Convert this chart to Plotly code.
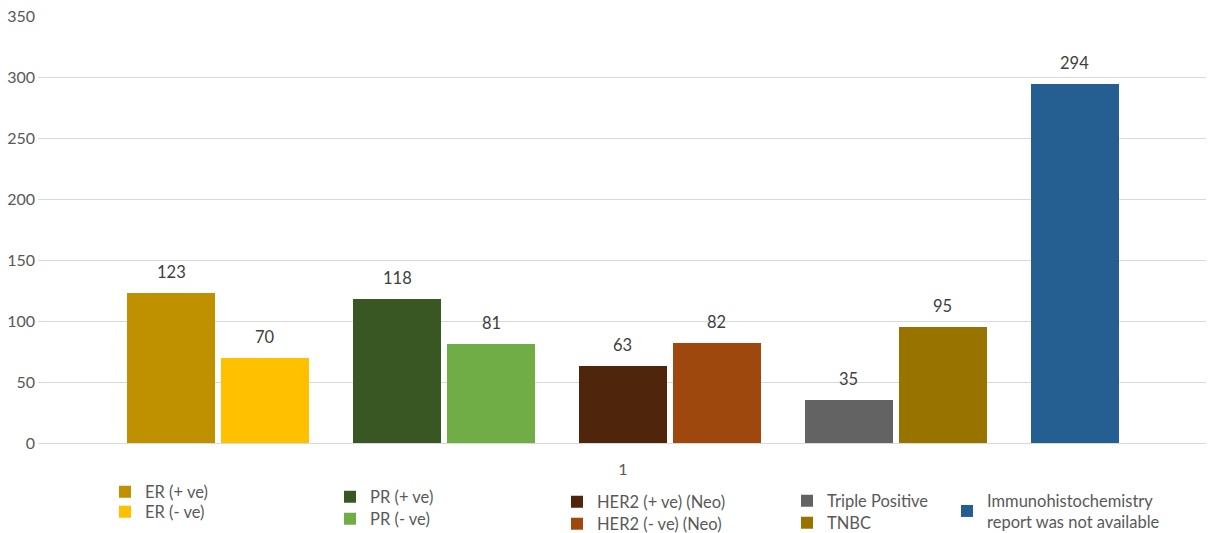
import plotly.graph_objects as go

# Receptor status counts, one bar per series
series = [
    "ER (+ ve)", "ER (- ve)",
    "PR (+ ve)", "PR (- ve)",
    "HER2 (+ ve) (Neo)", "HER2 (- ve) (Neo)",
    "Triple Positive", "TNBC",
    "Immunohistochemistry<br>report was not available",
]
values = [123, 70, 118, 81, 63, 82, 35, 95, 294]
colors = [
    "#BF9000", "#FFC000",
    "#385723", "#70AD47",
    "#4F260B", "#9E480E",
    "#636363", "#997300",
    "#255E91",
]
# (group, slot within group) for each series
groups = [0, 0, 1, 1, 2, 2, 3, 3, 4]
slots = [0, 1, 0, 1, 0, 1, 0, 1, 0]
category_label = "1"

# Legend entry placement (left edge / vertical centre, in page pixels)
legend_left = [105, 105, 330, 330, 557, 557, 787, 787, 947]
legend_mid = [492, 512, 497, 519, 502, 524, 501, 523, 511]

GROUP_STEP = 2.404
BAR_WIDTH = 0.94
positions = [g * GROUP_STEP + s for g, s in zip(groups, slots)]

FONT = "Lato, 'Open Sans', sans-serif"
FW, FH = 1216, 533
W, H, L, T = 1168, 427, 38, 16

fig = go.Figure()
legend_layout = {}
for i, (name, val, col, x) in enumerate(zip(series, values, colors, positions)):
    lg = "legend" if i == 0 else f"legend{i + 1}"
    fig.add_trace(go.Bar(
        x=[x], y=[val], name=name, legend=lg,
        marker=dict(color=col, line=dict(width=0)),
        width=BAR_WIDTH,
    ))
    fig.add_annotation(
        x=x, y=val, text=str(val), showarrow=False,
        yshift=21, yanchor="middle",
        font=dict(family=FONT, size=16.5, color="#404040"),
    )
    legend_layout[lg] = dict(
        bgcolor="rgba(0,0,0,0)",
        font=dict(family=FONT, size=16.5, color="#595959"),
        xanchor="left", yanchor="middle", itemwidth=30,
        xref="container", yref="container",
        x=legend_left[i] / FW, y=(FH - legend_mid[i]) / FH,
    )

center = (min(positions) + max(positions)) / 2

fig.update_layout(
    width=FW, height=FH,
    margin=dict(l=L, r=FW - L - W, t=T, b=FH - T - H, autoexpand=False),
    paper_bgcolor="white", plot_bgcolor="white",
    barmode="overlay", bargap=0,
    showlegend=True,
    font=dict(family=FONT, size=16, color="#595959"),
    xaxis=dict(
        range=[-1.415, 11.01], showgrid=False, zeroline=False,
        tickvals=[center], ticktext=[category_label], ticks="",
        ticklabelstandoff=12,
        tickfont=dict(family=FONT, size=16, color="#595959"),
        showline=True, linecolor="#d9d9d9", linewidth=1,
    ),
    yaxis=dict(
        range=[0, 350], tickvals=[0, 50, 100, 150, 200, 250, 300, 350],
        showgrid=True, gridcolor="#d9d9d9", gridwidth=1,
        zeroline=False, ticks="", ticklabelstandoff=2,
        tickfont=dict(family=FONT, size=16, color="#595959"),
    ),
    **legend_layout,
)

fig.write_html("out.html")
